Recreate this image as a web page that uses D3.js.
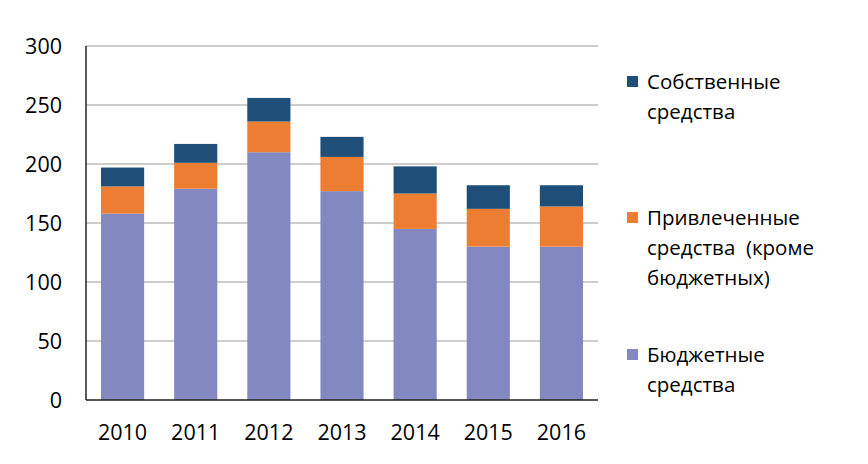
<!DOCTYPE html>
<html>
<head>
<meta charset="utf-8">
<script src="https://cdn.jsdelivr.net/npm/d3@7"></script>
<style>
  body { margin: 0; background: #fff; }
  text { font-family: "Open Sans", "Noto Sans", sans-serif; fill: #000; }
</style>
</head>
<body>
<svg width="868" height="464"></svg>
<script>
// Data
const years = ["2010", "2011", "2012", "2013", "2014", "2015", "2016"];
const budget = [158, 179, 210, 177, 145, 130, 130];
const attracted = [23, 22, 26, 29, 30, 32, 34];
const own = [16, 16, 20, 17, 23, 20, 18];
const yTicks = [0, 50, 100, 150, 200, 250, 300];

const seriesKeys = ["budget", "attracted", "own"];
const colors = { budget: "#8488C0", attracted: "#ED7D31", own: "#1F4E79" };
const legendItems = [
  { key: "own", lines: ["Собственные", "средства"], y: 82 },
  { key: "attracted", lines: ["Привлеченные", "средства  (кроме", "бюджетных)"], y: 218 },
  { key: "budget", lines: ["Бюджетные", "средства"], y: 355 }
];

const svg = d3.select("svg");
const margin = { left: 86, right: 270, top: 46, bottom: 64 };
const width = 868, height = 464;

const rows = years.map((y, i) => ({ year: y, budget: budget[i], attracted: attracted[i], own: own[i] }));
const stacked = d3.stack().keys(seriesKeys)(rows);

const x = d3.scaleBand()
    .domain(years)
    .range([margin.left, width - margin.right])
    .paddingInner(0.41)
    .paddingOuter(0.205);

const y = d3.scaleLinear()
    .domain([0, 300])
    .range([height - margin.bottom, margin.top]);

// gridlines
svg.append("g")
    .selectAll("line")
    .data(yTicks.slice(1))
    .join("line")
    .attr("x1", margin.left)
    .attr("x2", width - margin.right)
    .attr("y1", d => y(d))
    .attr("y2", d => y(d))
    .attr("stroke", "#BDBDBD")
    .attr("stroke-width", 1.5);

// bars
svg.append("g")
    .selectAll("g")
    .data(stacked)
    .join("g")
    .attr("fill", d => colors[d.key])
    .selectAll("rect")
    .data(d => d)
    .join("rect")
    .attr("x", d => x(d.data.year))
    .attr("width", x.bandwidth())
    .attr("y", d => y(d[1]))
    .attr("height", d => y(d[0]) - y(d[1]));

// axes
svg.append("line")
    .attr("x1", margin.left).attr("x2", margin.left)
    .attr("y1", y(300)).attr("y2", y(0))
    .attr("stroke", "#222").attr("stroke-width", 1.5);
svg.append("line")
    .attr("x1", margin.left).attr("x2", width - margin.right)
    .attr("y1", y(0)).attr("y2", y(0))
    .attr("stroke", "#222").attr("stroke-width", 1.5);

svg.append("g")
    .selectAll("text")
    .data(yTicks)
    .join("text")
    .attr("x", 62)
    .attr("y", d => y(d))
    .attr("dy", "0.35em")
    .attr("text-anchor", "end")
    .style("font-size", "21.5px")
    .text(d => d);

svg.append("g")
    .selectAll("text")
    .data(years)
    .join("text")
    .attr("x", d => x(d) + x.bandwidth() / 2)
    .attr("y", 432)
    .attr("dy", "0.35em")
    .attr("text-anchor", "middle")
    .style("font-size", "21.5px")
    .text(d => d);

// legend
const lg = svg.append("g")
    .selectAll("g")
    .data(legendItems)
    .join("g");

lg.append("rect")
    .attr("x", 627)
    .attr("y", d => d.y - 6)
    .attr("width", 11)
    .attr("height", 11)
    .attr("fill", d => colors[d.key]);

lg.each(function(d) {
    d3.select(this).selectAll("text")
        .data(d.lines)
        .join("text")
        .attr("x", 647)
        .attr("y", (t, i) => d.y + i * 30)
        .attr("dy", "0.35em")
        .style("font-size", "20.5px")
        .style("white-space", "pre")
        .text(t => t);
});
</script>
</body>
</html>
